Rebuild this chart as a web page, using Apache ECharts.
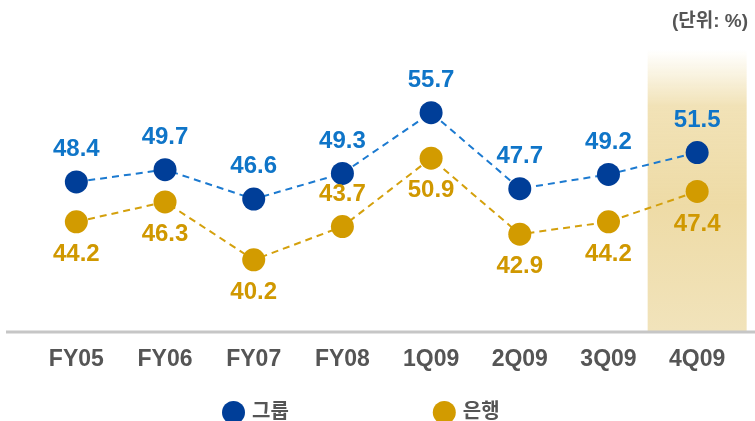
<!DOCTYPE html>
<html>
<head>
<meta charset="utf-8">
<script src="https://cdn.jsdelivr.net/npm/echarts@6/dist/echarts.min.js"></script>
<style>
html,body{margin:0;padding:0;background:#fff;}
#chart{width:755px;height:421px;}
</style>
</head>
<body>
<div id="chart"></div>
<script>
const categories = ['FY05', 'FY06', 'FY07', 'FY08', '1Q09', '2Q09', '3Q09', '4Q09'];
const groupValues = [48.4, 49.7, 46.6, 49.3, 55.7, 47.7, 49.2, 51.5];
const bankValues = [44.2, 46.3, 40.2, 43.7, 50.9, 42.9, 44.2, 47.4];
const bankLabelAbove = [false, false, false, true, false, false, false, false];
const highlightCategory = '4Q09';
const seriesNames = ['그룹', '은행'];
const unitText = '(단위: %)';

const Y_MIN = 32.6, Y_MAX = 62.3;

const chart = echarts.init(document.getElementById('chart'));
const font = 'Liberation Sans, Arial, Noto Sans CJK KR, sans-serif';

const bandBase = categories.map(c => c === highlightCategory ? Y_MIN : null);
const bandData = categories.map(c => c === highlightCategory ? Y_MAX - Y_MIN : null);

chart.setOption({
  animation: false,
  title: {
    text: unitText, right: 2, top: 7,
    textStyle: { fontSize: 19, fontWeight: 'bold', color: '#555', fontFamily: font }
  },
  legend: {
    data: seriesNames.map(n => ({ name: n, icon: 'circle' })),
    left: 217, top: 396, itemWidth: 23, itemHeight: 23, itemGap: 144,
    textStyle: { fontSize: 20, fontWeight: 'bold', color: '#555', fontFamily: font, padding: [0, 0, 0, 2] }
  },
  grid: { left: 32, right: 13.5, top: 50, bottom: 89 },
  xAxis: {
    type: 'category', data: categories, boundaryGap: true,
    axisLine: { show: false }, axisTick: { show: false },
    axisLabel: { margin: 16, fontSize: 23, fontWeight: 'bold', color: '#555', fontFamily: font }
  },
  yAxis: {
    type: 'value', min: Y_MIN, max: Y_MAX,
    show: false, splitLine: { show: false }
  },
  graphic: [{
    type: 'rect', shape: { x: 6, y: 330.5, width: 749, height: 3 },
    style: { fill: '#c6c6c6' }, z: 5
  }],
  series: [
    {
      type: 'bar', name: 'bandBase', data: bandBase, barWidth: 99, silent: true, z: 0, clip: false,
      stack: 'band', itemStyle: { color: 'rgba(0,0,0,0)' }
    },
    {
      type: 'bar', name: 'band', data: bandData, barWidth: 99, silent: true, z: 0, clip: false,
      stack: 'band',
      itemStyle: {
        color: new echarts.graphic.LinearGradient(0, 0, 0, 1, [
          { offset: 0, color: 'rgba(240,224,176,0)' },
          { offset: 0.2, color: 'rgba(239,221,170,0.85)' },
          { offset: 0.55, color: '#eedba6' },
          { offset: 1, color: '#f1e3bb' }
        ])
      }
    },
    {
      type: 'line', name: seriesNames[0], data: groupValues,
      symbol: 'circle', symbolSize: 23, z: 3,
      lineStyle: { color: '#1c7ad0', width: 2, type: [7, 5] },
      itemStyle: { color: '#003e98' },
      label: {
        show: true, position: 'top', distance: 9,
        fontSize: 24, fontWeight: 'bold', color: '#0f75c8', fontFamily: font
      }
    },
    {
      type: 'line', name: seriesNames[1], data: bankValues.map((v, i) => ({
        value: v,
        label: { position: bankLabelAbove[i] ? 'top' : 'bottom' }
      })),
      symbol: 'circle', symbolSize: 23, z: 3,
      lineStyle: { color: '#d4a00c', width: 2, type: [7, 5] },
      itemStyle: { color: '#d29b00' },
      label: {
        show: true, position: 'bottom', distance: 9,
        fontSize: 24, fontWeight: 'bold', color: '#d09800', fontFamily: font
      }
    }
  ]
});
</script>
</body>
</html>
